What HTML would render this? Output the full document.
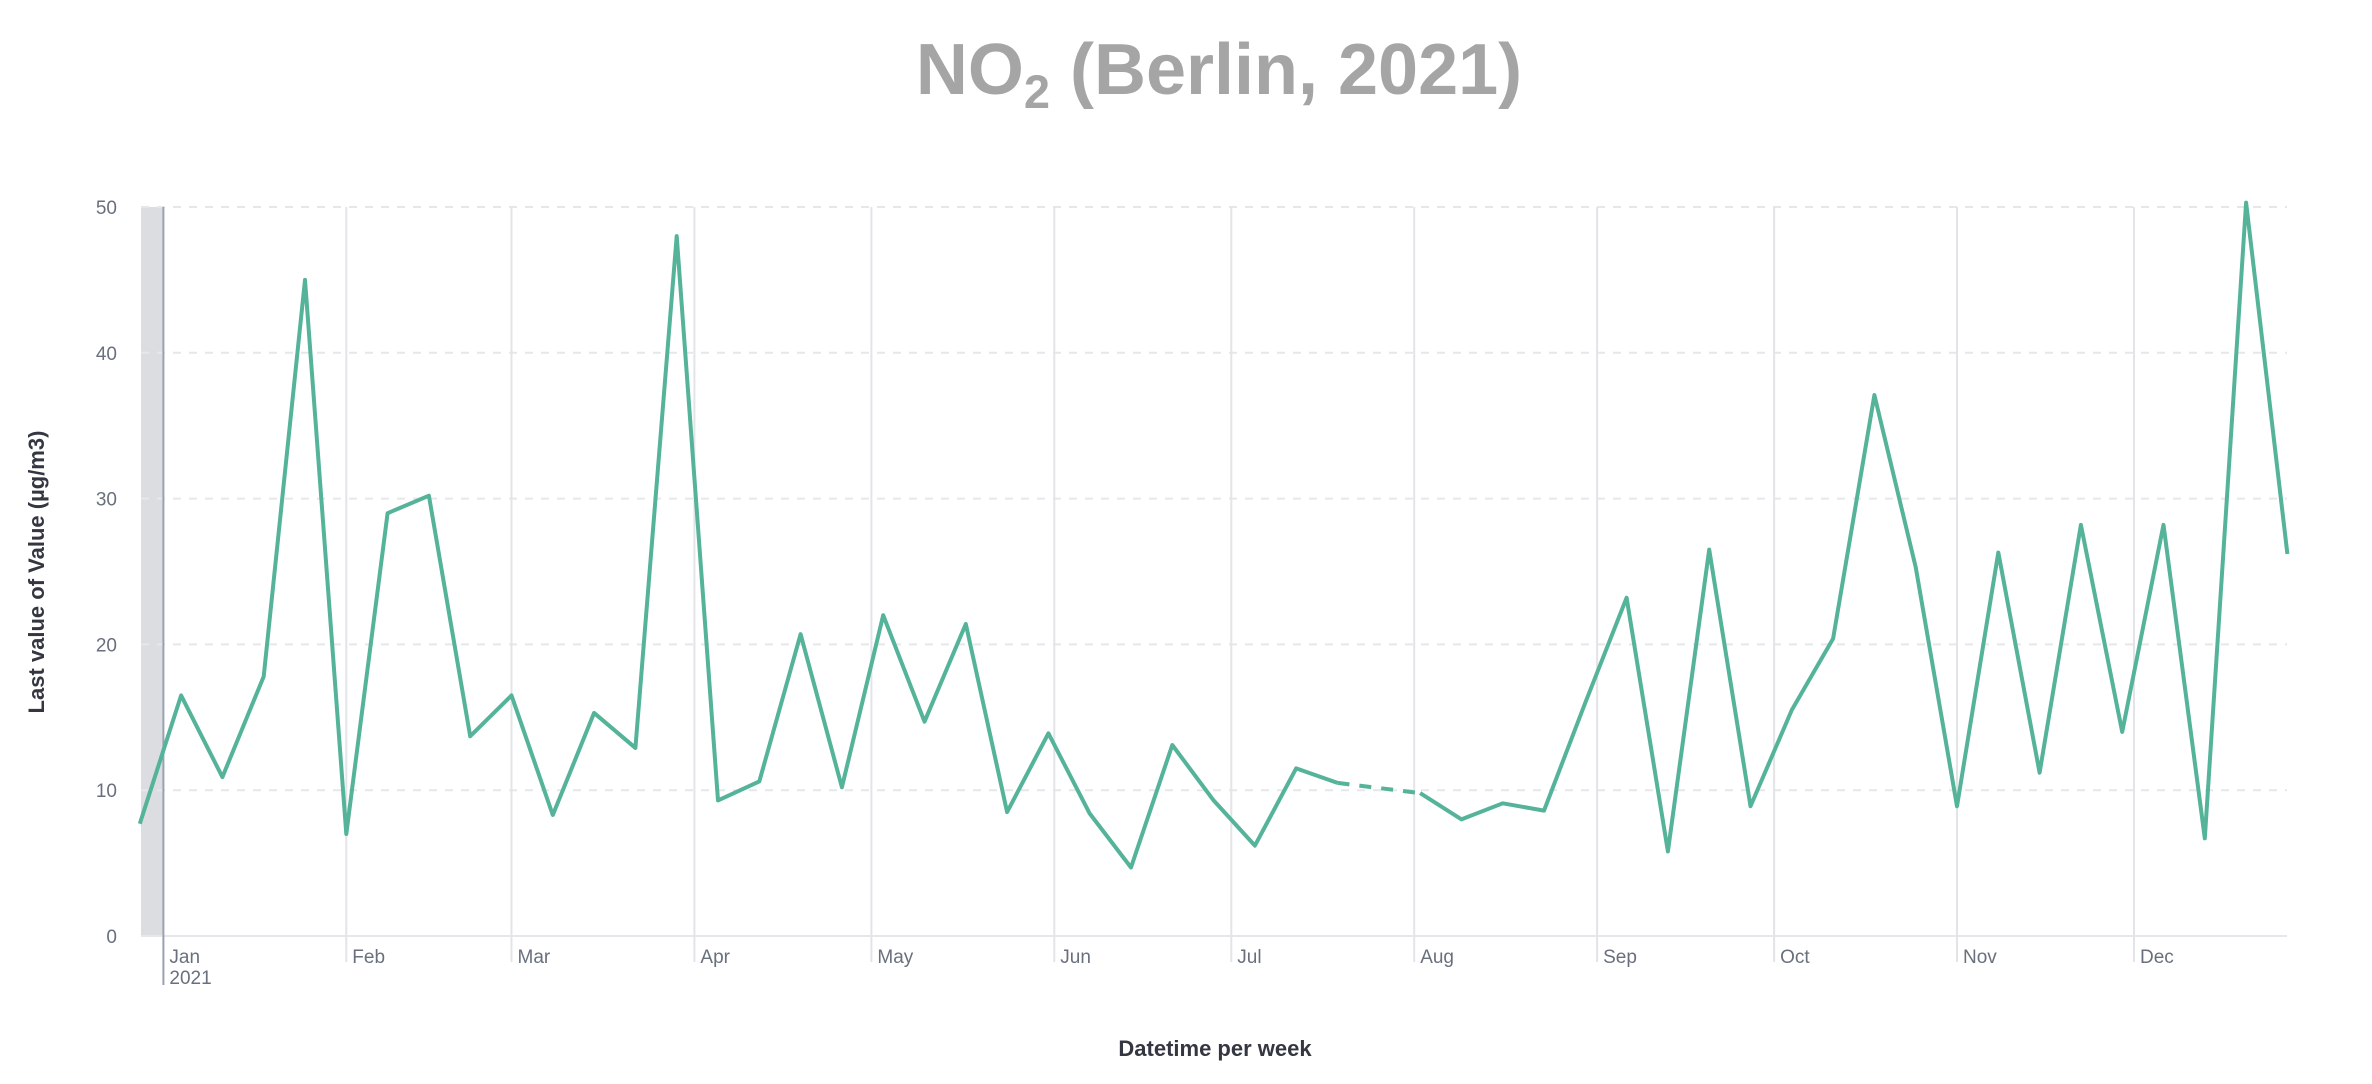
<!DOCTYPE html>
<html><head><meta charset="utf-8"><title>NO2 Berlin 2021</title>
<style>html,body{margin:0;padding:0;background:#fff;}svg{display:block;font-family:"Liberation Sans",sans-serif;}</style>
</head><body>
<svg id="chart" width="2372" height="1084" viewBox="0 0 2372 1084" xmlns="http://www.w3.org/2000/svg">
<text x="1219" y="94" text-anchor="middle" font-size="72" font-weight="bold" fill="#a5a5a5">NO<tspan font-size="47" dy="14">2</tspan><tspan dy="-14"> (Berlin, 2021)</tspan></text>
<g id="grid"></g>
<g id="axes"></g>
<g id="series"></g>
<text transform="translate(44,572) rotate(-90)" text-anchor="middle" font-size="22" font-weight="bold" fill="#343741">Last value of Value (µg/m3)</text>
<text x="1215" y="1056" text-anchor="middle" font-size="22" font-weight="bold" fill="#343741">Datetime per week</text>
</svg>
<script>
const monthLabels = ["Jan","Feb","Mar","Apr","May","Jun","Jul","Aug","Sep","Oct","Nov","Dec"];
const monthDays = [0,31,59,90,120,151,181,212,243,273,304,334];
const yTicks = [0,10,20,30,40,50];
// weekly values, first week starts 2020-12-28; null = missing week
const weeklyValues = [7.7,16.5,10.9,17.8,45,7.0,29,30.2,13.7,16.5,8.3,15.3,12.9,48,9.3,10.6,20.7,10.2,22,14.7,21.4,8.5,13.9,8.4,4.7,13.1,9.3,6.2,11.5,10.5,null,9.8,8.0,9.1,8.6,16,23.2,5.8,26.5,8.9,15.5,20.4,37.1,25.3,8.9,26.3,11.2,28.2,14.0,28.2,6.7,50.3,26.2];

const NS="http://www.w3.org/2000/svg";
const X0=163.4, PXDAY=5.9, LEFT=141, RIGHT=2287, Y0=936, Y50=207;
const xDay=d=>X0+d*PXDAY;
const xWeek=i=>xDay(i*7-4);
const yVal=v=>Y0-(v/50)*(Y0-Y50);
function mk(tag,attrs,parent){const e=document.createElementNS(NS,tag);for(const k in attrs)e.setAttribute(k,attrs[k]);parent.appendChild(e);return e;}
const grid=document.getElementById('grid'), axes=document.getElementById('axes'), series=document.getElementById('series');

const band=mk('rect',{x:LEFT,y:Y50,width:X0-LEFT,height:Y0-Y50,fill:'#dcdde1'},grid);



yTicks.forEach(t=>{
  const y=yVal(t);
  const l=mk('line',{x1:LEFT,x2:RIGHT,y1:y,y2:y,stroke:'#e6e7ea','stroke-width':2,'stroke-dasharray':t===0?'none':'8,8'},grid);
  
  
  const tx=mk('text',{x:117,y:y+7,'text-anchor':'end','font-size':19,fill:'#69707d'},axes);
  tx.textContent=t;
  
  
});

monthDays.forEach((d,i)=>{
  const x=xDay(d);
  const l=mk('line',{x1:x,x2:x,y1:Y50,y2:i===0?985:962,stroke:i===0?'#98a2b3':'#e3e4e8','stroke-width':2},grid);
  
  
  const tx=mk('text',{x:x+6,y:963,'font-size':19,fill:'#69707d'},axes);
  tx.textContent=monthLabels[i];
  
  
  if(i===0){
    const yr=mk('text',{x:x+6,y:984,'font-size':19,fill:'#69707d'},axes);
    yr.textContent='2021';
    
    
  }
});

let seg=[];const segs=[];
weeklyValues.forEach((v,i)=>{
  if(v===null){if(seg.length)segs.push(seg);seg=[];}
  else seg.push([xWeek(i),yVal(v)]);
});
if(seg.length)segs.push(seg);
segs.forEach((s,k)=>{
  const p=mk('polyline',{points:s.map(q=>q.join(',')).join(' '),fill:'none',stroke:'#54b399','stroke-width':4,'stroke-linejoin':'round'},series);
  
  
  if(k<segs.length-1){
    const a=s[s.length-1], b=segs[k+1][0];
    const dl=mk('line',{x1:a[0],y1:a[1],x2:b[0],y2:b[1],stroke:'#54b399','stroke-width':4,'stroke-dasharray':'12,10'},series);
    
    
  }
});
</script>
</body></html>
